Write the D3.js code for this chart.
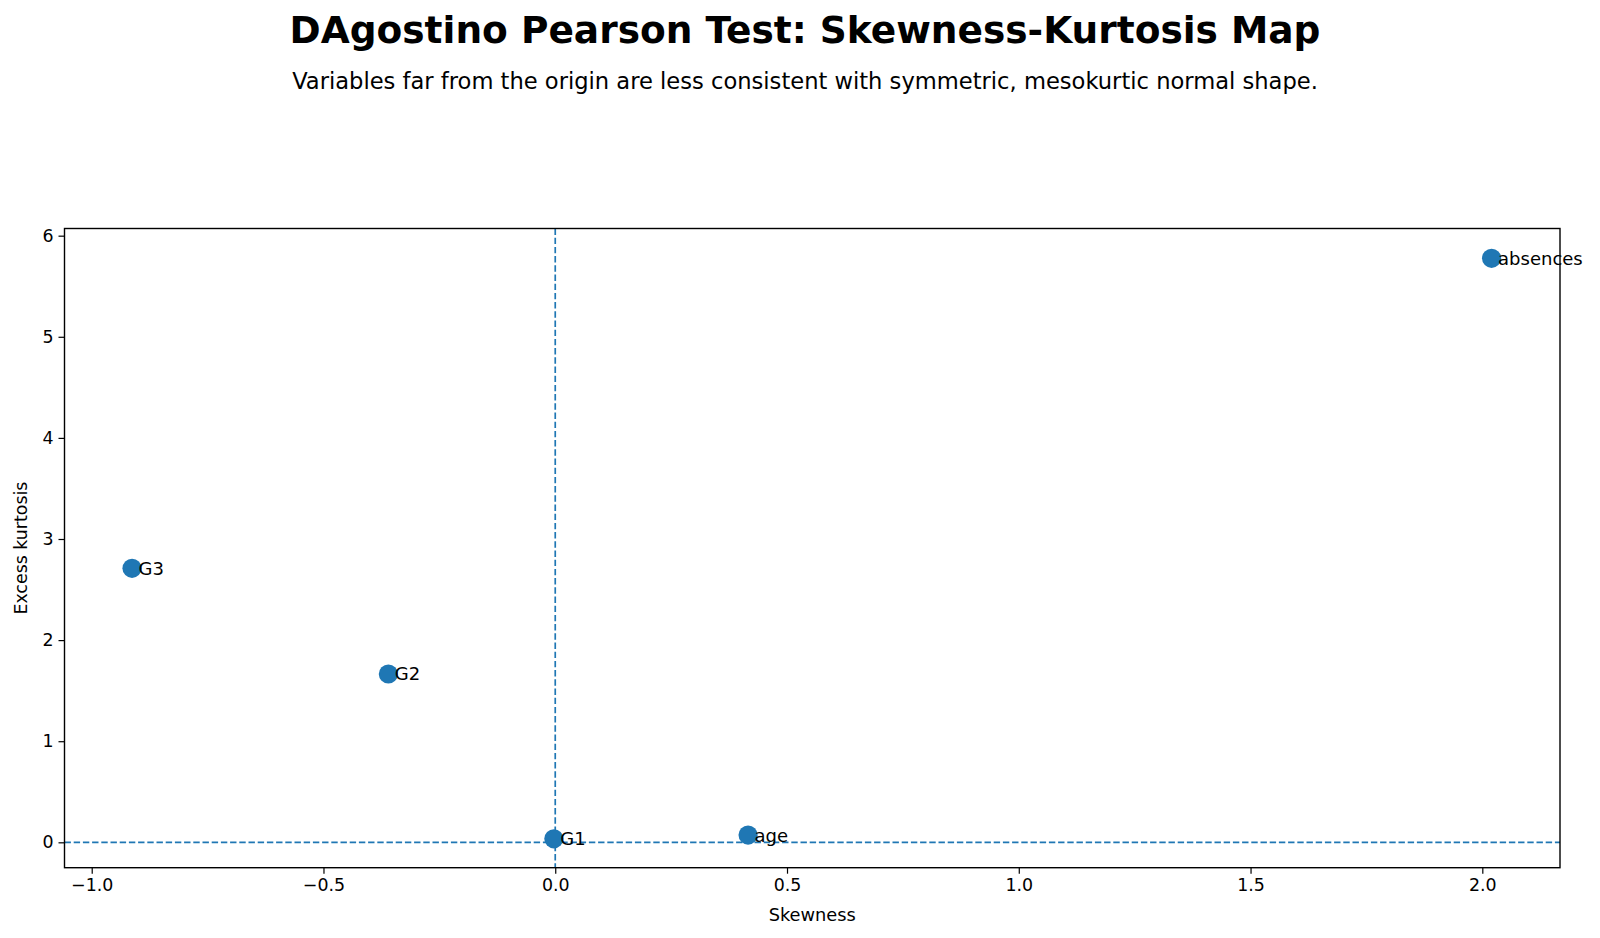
<!DOCTYPE html>
<html>
<head>
<meta charset="utf-8">
<script src="https://cdn.jsdelivr.net/npm/d3@7"></script>
<style>
  body { margin: 0; background: white; }
  text { font-family: "DejaVu Sans", sans-serif; }
</style>
</head>
<body>
<script>
// dados
var variaveis = ['G3', 'G2', 'G1', 'age', 'absences'];
var assimetria = [-0.913, -0.360, -0.003, 0.416, 2.020];
var curtose = [2.71, 1.665, 0.035, 0.072, 5.776];
var ticksX = [-1.0, -0.5, 0.0, 0.5, 1.0, 1.5, 2.0];
var ticksY = [0, 1, 2, 3, 4, 5, 6];

var svg = d3.select('body').append('svg').attr('width', 1600).attr('height', 938);

var esq = 64.5, dir = 1560, topo = 228.5, base = 867.7;
var azul = '#1f77b4';

var x = d3.scaleLinear().domain([-1.0587, 2.1676]).range([esq, dir]);
var y = d3.scaleLinear().domain([-0.251, 6.071]).range([base, topo]);

// titulo
svg.append('text').attr('x', 805).attr('y', 30).attr('text-anchor', 'middle')
    .attr('dominant-baseline', 'central').attr('font-size', 37.5).attr('font-weight', 'bold')
    .text('DAgostino Pearson Test: Skewness-Kurtosis Map');
svg.append('text').attr('x', 805).attr('y', 81).attr('text-anchor', 'middle')
    .attr('dominant-baseline', 'central').attr('font-size', 22.6)
    .text('Variables far from the origin are less consistent with symmetric, mesokurtic normal shape.');

// linhas de referencia
svg.append('line').attr('x1', esq).attr('x2', dir).attr('y1', y(0)).attr('y2', y(0))
    .attr('stroke', azul).attr('stroke-width', 1.7).attr('stroke-dasharray', '6.4,2.8');
svg.append('line').attr('x1', x(0)).attr('x2', x(0)).attr('y1', topo).attr('y2', base)
    .attr('stroke', azul).attr('stroke-width', 1.7).attr('stroke-dasharray', '6.4,2.8');

// pontos
var pontos = svg.append('g');
variaveis.forEach(function(nome, i) {
    pontos.append('circle').attr('r', 9.6)
        .attr('cx', x(assimetria[i])).attr('cy', y(curtose[i]))
        .attr('fill', azul);
    pontos.append('text').attr('x', x(assimetria[i]) + 6.5).attr('y', y(curtose[i]))
        .attr('dominant-baseline', 'central').attr('font-size', 18)
        .text(nome);
});

// eixos
var eixoX = svg.append('g').attr('transform', 'translate(0,' + base + ')')
    .call(d3.axisBottom(x).tickValues(ticksX).tickSize(6).tickPadding(5)
        .tickFormat(function(d) { return d3.format('.1f')(d).replace('-', '\u2212'); }));
var eixoY = svg.append('g').attr('transform', 'translate(' + esq + ',0)')
    .call(d3.axisLeft(y).tickValues(ticksY).tickSize(6).tickPadding(5).tickFormat(d3.format('d')));
[eixoX, eixoY].forEach(function(e) {
    e.select('.domain').remove();
    e.selectAll('text').attr('font-size', 17.4).attr('font-family', 'DejaVu Sans').attr('fill', 'black');
    e.selectAll('line').attr('stroke', 'black').attr('stroke-width', 1.2);
});

// moldura
svg.append('rect').attr('x', esq).attr('y', topo).attr('width', dir - esq).attr('height', base - topo)
    .attr('fill', 'none').attr('stroke', 'black').attr('stroke-width', 1.4);

// rotulos
svg.append('text').attr('x', (esq + dir) / 2).attr('y', 914).attr('text-anchor', 'middle')
    .attr('dominant-baseline', 'central').attr('font-size', 17.8).text('Skewness');
svg.append('text').attr('transform', 'translate(21,' + (topo + base) / 2 + ') rotate(-90)')
    .attr('text-anchor', 'middle').attr('dominant-baseline', 'central')
    .attr('font-size', 17.4).text('Excess kurtosis');
</script>
</body>
</html>
